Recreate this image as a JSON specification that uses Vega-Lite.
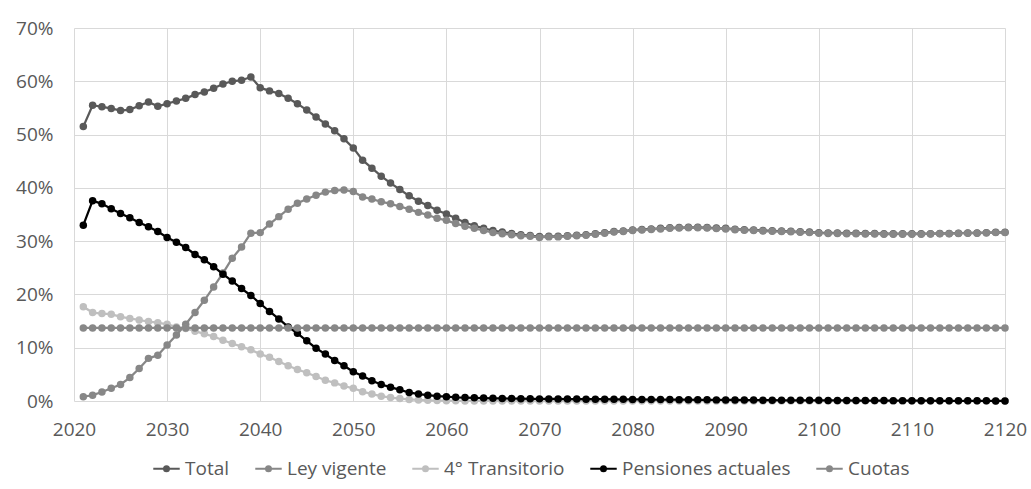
{
  "$schema": "https://vega.github.io/schema/vega-lite/v6.json",
  "width": 931,
  "height": 373,
  "autosize": {"type": "none"},
  "padding": {"left": 74, "top": 28, "right": 26, "bottom": 88},
  "background": "white",
  "config": {
    "font": "Open Sans",
    "view": {"stroke": null},
    "axis": {"labelFont": "Open Sans", "labelFontSize": 19, "labelColor": "#595959", "gridColor": "#d9d9d9", "gridWidth": 1, "domain": false, "ticks": false, "title": null}
  },
  "data": {"values": [
{"year":2021,"series":"Total","value":51.5},{"year":2022,"series":"Total","value":55.5},{"year":2023,"series":"Total","value":55.2},{"year":2024,"series":"Total","value":54.9},{"year":2025,"series":"Total","value":54.5},{"year":2026,"series":"Total","value":54.7},{"year":2027,"series":"Total","value":55.4},{"year":2028,"series":"Total","value":56.1},{"year":2029,"series":"Total","value":55.3},{"year":2030,"series":"Total","value":55.8},
{"year":2031,"series":"Total","value":56.3},{"year":2032,"series":"Total","value":56.8},{"year":2033,"series":"Total","value":57.5},{"year":2034,"series":"Total","value":58.0},{"year":2035,"series":"Total","value":58.7},{"year":2036,"series":"Total","value":59.5},{"year":2037,"series":"Total","value":60.0},{"year":2038,"series":"Total","value":60.2},{"year":2039,"series":"Total","value":60.8},{"year":2040,"series":"Total","value":58.8},
{"year":2041,"series":"Total","value":58.2},{"year":2042,"series":"Total","value":57.7},{"year":2043,"series":"Total","value":56.8},{"year":2044,"series":"Total","value":55.8},{"year":2045,"series":"Total","value":54.6},{"year":2046,"series":"Total","value":53.3},{"year":2047,"series":"Total","value":52.0},{"year":2048,"series":"Total","value":50.7},{"year":2049,"series":"Total","value":49.2},{"year":2050,"series":"Total","value":47.5},
{"year":2051,"series":"Total","value":45.2},{"year":2052,"series":"Total","value":43.7},{"year":2053,"series":"Total","value":42.2},{"year":2054,"series":"Total","value":40.9},{"year":2055,"series":"Total","value":39.7},{"year":2056,"series":"Total","value":38.5},{"year":2057,"series":"Total","value":37.5},{"year":2058,"series":"Total","value":36.7},{"year":2059,"series":"Total","value":35.8},{"year":2060,"series":"Total","value":35.1},
{"year":2061,"series":"Total","value":34.3},{"year":2062,"series":"Total","value":33.5},{"year":2063,"series":"Total","value":32.9},{"year":2064,"series":"Total","value":32.4},{"year":2065,"series":"Total","value":32.0},{"year":2066,"series":"Total","value":31.7},{"year":2067,"series":"Total","value":31.45},{"year":2068,"series":"Total","value":31.2},{"year":2069,"series":"Total","value":31.05},{"year":2070,"series":"Total","value":30.85},
{"year":2071,"series":"Total","value":30.9},{"year":2072,"series":"Total","value":30.9},{"year":2073,"series":"Total","value":31.0},{"year":2074,"series":"Total","value":31.1},{"year":2075,"series":"Total","value":31.2},{"year":2076,"series":"Total","value":31.4},{"year":2077,"series":"Total","value":31.6},{"year":2078,"series":"Total","value":31.8},{"year":2079,"series":"Total","value":31.9},{"year":2080,"series":"Total","value":32.1},
{"year":2081,"series":"Total","value":32.2},{"year":2082,"series":"Total","value":32.3},{"year":2083,"series":"Total","value":32.4},{"year":2084,"series":"Total","value":32.5},{"year":2085,"series":"Total","value":32.55},{"year":2086,"series":"Total","value":32.6},{"year":2087,"series":"Total","value":32.6},{"year":2088,"series":"Total","value":32.55},{"year":2089,"series":"Total","value":32.45},{"year":2090,"series":"Total","value":32.4},
{"year":2091,"series":"Total","value":32.25},{"year":2092,"series":"Total","value":32.15},{"year":2093,"series":"Total","value":32.1},{"year":2094,"series":"Total","value":32.0},{"year":2095,"series":"Total","value":31.95},{"year":2096,"series":"Total","value":31.9},{"year":2097,"series":"Total","value":31.85},{"year":2098,"series":"Total","value":31.75},{"year":2099,"series":"Total","value":31.7},{"year":2100,"series":"Total","value":31.6},
{"year":2101,"series":"Total","value":31.55},{"year":2102,"series":"Total","value":31.55},{"year":2103,"series":"Total","value":31.5},{"year":2104,"series":"Total","value":31.5},{"year":2105,"series":"Total","value":31.45},{"year":2106,"series":"Total","value":31.45},{"year":2107,"series":"Total","value":31.4},{"year":2108,"series":"Total","value":31.4},{"year":2109,"series":"Total","value":31.4},{"year":2110,"series":"Total","value":31.4},
{"year":2111,"series":"Total","value":31.4},{"year":2112,"series":"Total","value":31.4},{"year":2113,"series":"Total","value":31.45},{"year":2114,"series":"Total","value":31.45},{"year":2115,"series":"Total","value":31.5},{"year":2116,"series":"Total","value":31.55},{"year":2117,"series":"Total","value":31.55},{"year":2118,"series":"Total","value":31.6},{"year":2119,"series":"Total","value":31.65},{"year":2120,"series":"Total","value":31.65},

{"year":2021,"series":"Ley vigente","value":0.8},{"year":2022,"series":"Ley vigente","value":1.1},{"year":2023,"series":"Ley vigente","value":1.7},{"year":2024,"series":"Ley vigente","value":2.4},{"year":2025,"series":"Ley vigente","value":3.1},{"year":2026,"series":"Ley vigente","value":4.4},{"year":2027,"series":"Ley vigente","value":6.1},{"year":2028,"series":"Ley vigente","value":8.0},{"year":2029,"series":"Ley vigente","value":8.6},{"year":2030,"series":"Ley vigente","value":10.5},
{"year":2031,"series":"Ley vigente","value":12.4},{"year":2032,"series":"Ley vigente","value":14.4},{"year":2033,"series":"Ley vigente","value":16.6},{"year":2034,"series":"Ley vigente","value":18.9},{"year":2035,"series":"Ley vigente","value":21.4},{"year":2036,"series":"Ley vigente","value":24.0},{"year":2037,"series":"Ley vigente","value":26.8},{"year":2038,"series":"Ley vigente","value":28.9},{"year":2039,"series":"Ley vigente","value":31.5},{"year":2040,"series":"Ley vigente","value":31.6},
{"year":2041,"series":"Ley vigente","value":33.2},{"year":2042,"series":"Ley vigente","value":34.6},{"year":2043,"series":"Ley vigente","value":36.0},{"year":2044,"series":"Ley vigente","value":37.1},{"year":2045,"series":"Ley vigente","value":37.9},{"year":2046,"series":"Ley vigente","value":38.6},{"year":2047,"series":"Ley vigente","value":39.2},{"year":2048,"series":"Ley vigente","value":39.5},{"year":2049,"series":"Ley vigente","value":39.6},{"year":2050,"series":"Ley vigente","value":39.3},
{"year":2051,"series":"Ley vigente","value":38.3},{"year":2052,"series":"Ley vigente","value":37.9},{"year":2053,"series":"Ley vigente","value":37.4},{"year":2054,"series":"Ley vigente","value":37.0},{"year":2055,"series":"Ley vigente","value":36.5},{"year":2056,"series":"Ley vigente","value":36.0},{"year":2057,"series":"Ley vigente","value":35.4},{"year":2058,"series":"Ley vigente","value":34.9},{"year":2059,"series":"Ley vigente","value":34.3},{"year":2060,"series":"Ley vigente","value":33.9},
{"year":2061,"series":"Ley vigente","value":33.3},{"year":2062,"series":"Ley vigente","value":32.8},{"year":2063,"series":"Ley vigente","value":32.4},{"year":2064,"series":"Ley vigente","value":32.0},{"year":2065,"series":"Ley vigente","value":31.6},{"year":2066,"series":"Ley vigente","value":31.4},{"year":2067,"series":"Ley vigente","value":31.2},{"year":2068,"series":"Ley vigente","value":31.0},{"year":2069,"series":"Ley vigente","value":30.9},{"year":2070,"series":"Ley vigente","value":30.7},
{"year":2071,"series":"Ley vigente","value":30.8},{"year":2072,"series":"Ley vigente","value":30.8},{"year":2073,"series":"Ley vigente","value":30.9},{"year":2074,"series":"Ley vigente","value":31.0},{"year":2075,"series":"Ley vigente","value":31.1},{"year":2076,"series":"Ley vigente","value":31.3},{"year":2077,"series":"Ley vigente","value":31.5},{"year":2078,"series":"Ley vigente","value":31.7},{"year":2079,"series":"Ley vigente","value":31.8},{"year":2080,"series":"Ley vigente","value":32.0},
{"year":2081,"series":"Ley vigente","value":32.1},{"year":2082,"series":"Ley vigente","value":32.2},{"year":2083,"series":"Ley vigente","value":32.3},{"year":2084,"series":"Ley vigente","value":32.4},{"year":2085,"series":"Ley vigente","value":32.45},{"year":2086,"series":"Ley vigente","value":32.5},{"year":2087,"series":"Ley vigente","value":32.5},{"year":2088,"series":"Ley vigente","value":32.45},{"year":2089,"series":"Ley vigente","value":32.35},{"year":2090,"series":"Ley vigente","value":32.3},
{"year":2091,"series":"Ley vigente","value":32.15},{"year":2092,"series":"Ley vigente","value":32.05},{"year":2093,"series":"Ley vigente","value":32.0},{"year":2094,"series":"Ley vigente","value":31.9},{"year":2095,"series":"Ley vigente","value":31.85},{"year":2096,"series":"Ley vigente","value":31.8},{"year":2097,"series":"Ley vigente","value":31.75},{"year":2098,"series":"Ley vigente","value":31.65},{"year":2099,"series":"Ley vigente","value":31.6},{"year":2100,"series":"Ley vigente","value":31.5},
{"year":2101,"series":"Ley vigente","value":31.45},{"year":2102,"series":"Ley vigente","value":31.45},{"year":2103,"series":"Ley vigente","value":31.4},{"year":2104,"series":"Ley vigente","value":31.4},{"year":2105,"series":"Ley vigente","value":31.35},{"year":2106,"series":"Ley vigente","value":31.35},{"year":2107,"series":"Ley vigente","value":31.3},{"year":2108,"series":"Ley vigente","value":31.3},{"year":2109,"series":"Ley vigente","value":31.3},{"year":2110,"series":"Ley vigente","value":31.3},
{"year":2111,"series":"Ley vigente","value":31.3},{"year":2112,"series":"Ley vigente","value":31.35},{"year":2113,"series":"Ley vigente","value":31.4},{"year":2114,"series":"Ley vigente","value":31.4},{"year":2115,"series":"Ley vigente","value":31.45},{"year":2116,"series":"Ley vigente","value":31.5},{"year":2117,"series":"Ley vigente","value":31.5},{"year":2118,"series":"Ley vigente","value":31.55},{"year":2119,"series":"Ley vigente","value":31.6},{"year":2120,"series":"Ley vigente","value":31.6},

{"year":2021,"series":"4° Transitorio","value":17.7},{"year":2022,"series":"4° Transitorio","value":16.6},{"year":2023,"series":"4° Transitorio","value":16.4},{"year":2024,"series":"4° Transitorio","value":16.3},{"year":2025,"series":"4° Transitorio","value":15.8},{"year":2026,"series":"4° Transitorio","value":15.5},{"year":2027,"series":"4° Transitorio","value":15.2},{"year":2028,"series":"4° Transitorio","value":14.9},{"year":2029,"series":"4° Transitorio","value":14.7},{"year":2030,"series":"4° Transitorio","value":14.4},
{"year":2031,"series":"4° Transitorio","value":13.9},{"year":2032,"series":"4° Transitorio","value":13.6},{"year":2033,"series":"4° Transitorio","value":13.1},{"year":2034,"series":"4° Transitorio","value":12.6},{"year":2035,"series":"4° Transitorio","value":12.1},{"year":2036,"series":"4° Transitorio","value":11.4},{"year":2037,"series":"4° Transitorio","value":10.8},{"year":2038,"series":"4° Transitorio","value":10.2},{"year":2039,"series":"4° Transitorio","value":9.6},{"year":2040,"series":"4° Transitorio","value":8.8},
{"year":2041,"series":"4° Transitorio","value":8.2},{"year":2042,"series":"4° Transitorio","value":7.4},{"year":2043,"series":"4° Transitorio","value":6.6},{"year":2044,"series":"4° Transitorio","value":5.9},{"year":2045,"series":"4° Transitorio","value":5.3},{"year":2046,"series":"4° Transitorio","value":4.6},{"year":2047,"series":"4° Transitorio","value":3.9},{"year":2048,"series":"4° Transitorio","value":3.4},{"year":2049,"series":"4° Transitorio","value":2.8},{"year":2050,"series":"4° Transitorio","value":2.4},
{"year":2051,"series":"4° Transitorio","value":1.75},{"year":2052,"series":"4° Transitorio","value":1.3},{"year":2053,"series":"4° Transitorio","value":0.9},{"year":2054,"series":"4° Transitorio","value":0.65},{"year":2055,"series":"4° Transitorio","value":0.45},{"year":2056,"series":"4° Transitorio","value":0.3},{"year":2057,"series":"4° Transitorio","value":0.2},{"year":2058,"series":"4° Transitorio","value":0.12},{"year":2059,"series":"4° Transitorio","value":0.08},{"year":2060,"series":"4° Transitorio","value":0.05},
{"year":2061,"series":"4° Transitorio","value":0.03},{"year":2062,"series":"4° Transitorio","value":0.02},{"year":2063,"series":"4° Transitorio","value":0.01},{"year":2064,"series":"4° Transitorio","value":0.01},{"year":2065,"series":"4° Transitorio","value":0},{"year":2066,"series":"4° Transitorio","value":0},{"year":2067,"series":"4° Transitorio","value":0},{"year":2068,"series":"4° Transitorio","value":0},{"year":2069,"series":"4° Transitorio","value":0},{"year":2070,"series":"4° Transitorio","value":0},
{"year":2071,"series":"4° Transitorio","value":0},{"year":2072,"series":"4° Transitorio","value":0},{"year":2073,"series":"4° Transitorio","value":0},{"year":2074,"series":"4° Transitorio","value":0},{"year":2075,"series":"4° Transitorio","value":0},{"year":2076,"series":"4° Transitorio","value":0},{"year":2077,"series":"4° Transitorio","value":0},{"year":2078,"series":"4° Transitorio","value":0},{"year":2079,"series":"4° Transitorio","value":0},{"year":2080,"series":"4° Transitorio","value":0},
{"year":2081,"series":"4° Transitorio","value":0},{"year":2082,"series":"4° Transitorio","value":0},{"year":2083,"series":"4° Transitorio","value":0},{"year":2084,"series":"4° Transitorio","value":0},{"year":2085,"series":"4° Transitorio","value":0},{"year":2086,"series":"4° Transitorio","value":0},{"year":2087,"series":"4° Transitorio","value":0},{"year":2088,"series":"4° Transitorio","value":0},{"year":2089,"series":"4° Transitorio","value":0},{"year":2090,"series":"4° Transitorio","value":0},
{"year":2091,"series":"4° Transitorio","value":0},{"year":2092,"series":"4° Transitorio","value":0},{"year":2093,"series":"4° Transitorio","value":0},{"year":2094,"series":"4° Transitorio","value":0},{"year":2095,"series":"4° Transitorio","value":0},{"year":2096,"series":"4° Transitorio","value":0},{"year":2097,"series":"4° Transitorio","value":0},{"year":2098,"series":"4° Transitorio","value":0},{"year":2099,"series":"4° Transitorio","value":0},{"year":2100,"series":"4° Transitorio","value":0},
{"year":2101,"series":"4° Transitorio","value":0},{"year":2102,"series":"4° Transitorio","value":0},{"year":2103,"series":"4° Transitorio","value":0},{"year":2104,"series":"4° Transitorio","value":0},{"year":2105,"series":"4° Transitorio","value":0},{"year":2106,"series":"4° Transitorio","value":0},{"year":2107,"series":"4° Transitorio","value":0},{"year":2108,"series":"4° Transitorio","value":0},{"year":2109,"series":"4° Transitorio","value":0},{"year":2110,"series":"4° Transitorio","value":0},
{"year":2111,"series":"4° Transitorio","value":0},{"year":2112,"series":"4° Transitorio","value":0},{"year":2113,"series":"4° Transitorio","value":0},{"year":2114,"series":"4° Transitorio","value":0},{"year":2115,"series":"4° Transitorio","value":0},{"year":2116,"series":"4° Transitorio","value":0},{"year":2117,"series":"4° Transitorio","value":0},{"year":2118,"series":"4° Transitorio","value":0},{"year":2119,"series":"4° Transitorio","value":0},{"year":2120,"series":"4° Transitorio","value":0},

{"year":2021,"series":"Pensiones actuales","value":33.0},{"year":2022,"series":"Pensiones actuales","value":37.6},{"year":2023,"series":"Pensiones actuales","value":37.0},{"year":2024,"series":"Pensiones actuales","value":36.1},{"year":2025,"series":"Pensiones actuales","value":35.2},{"year":2026,"series":"Pensiones actuales","value":34.4},{"year":2027,"series":"Pensiones actuales","value":33.5},{"year":2028,"series":"Pensiones actuales","value":32.7},{"year":2029,"series":"Pensiones actuales","value":31.8},{"year":2030,"series":"Pensiones actuales","value":30.7},
{"year":2031,"series":"Pensiones actuales","value":29.8},{"year":2032,"series":"Pensiones actuales","value":28.8},{"year":2033,"series":"Pensiones actuales","value":27.5},{"year":2034,"series":"Pensiones actuales","value":26.5},{"year":2035,"series":"Pensiones actuales","value":25.2},{"year":2036,"series":"Pensiones actuales","value":23.8},{"year":2037,"series":"Pensiones actuales","value":22.5},{"year":2038,"series":"Pensiones actuales","value":21.1},{"year":2039,"series":"Pensiones actuales","value":19.8},{"year":2040,"series":"Pensiones actuales","value":18.3},
{"year":2041,"series":"Pensiones actuales","value":16.8},{"year":2042,"series":"Pensiones actuales","value":15.4},{"year":2043,"series":"Pensiones actuales","value":13.9},{"year":2044,"series":"Pensiones actuales","value":12.7},{"year":2045,"series":"Pensiones actuales","value":11.3},{"year":2046,"series":"Pensiones actuales","value":9.9},{"year":2047,"series":"Pensiones actuales","value":8.8},{"year":2048,"series":"Pensiones actuales","value":7.6},{"year":2049,"series":"Pensiones actuales","value":6.6},{"year":2050,"series":"Pensiones actuales","value":5.5},
{"year":2051,"series":"Pensiones actuales","value":4.7},{"year":2052,"series":"Pensiones actuales","value":3.8},{"year":2053,"series":"Pensiones actuales","value":3.1},{"year":2054,"series":"Pensiones actuales","value":2.6},{"year":2055,"series":"Pensiones actuales","value":2.1},{"year":2056,"series":"Pensiones actuales","value":1.6},{"year":2057,"series":"Pensiones actuales","value":1.3},{"year":2058,"series":"Pensiones actuales","value":1.1},{"year":2059,"series":"Pensiones actuales","value":0.9},{"year":2060,"series":"Pensiones actuales","value":0.8},
{"year":2061,"series":"Pensiones actuales","value":0.7},{"year":2062,"series":"Pensiones actuales","value":0.65},{"year":2063,"series":"Pensiones actuales","value":0.6},{"year":2064,"series":"Pensiones actuales","value":0.55},{"year":2065,"series":"Pensiones actuales","value":0.5},{"year":2066,"series":"Pensiones actuales","value":0.48},{"year":2067,"series":"Pensiones actuales","value":0.46},{"year":2068,"series":"Pensiones actuales","value":0.44},{"year":2069,"series":"Pensiones actuales","value":0.42},{"year":2070,"series":"Pensiones actuales","value":0.4},
{"year":2071,"series":"Pensiones actuales","value":0.39},{"year":2072,"series":"Pensiones actuales","value":0.38},{"year":2073,"series":"Pensiones actuales","value":0.37},{"year":2074,"series":"Pensiones actuales","value":0.36},{"year":2075,"series":"Pensiones actuales","value":0.35},{"year":2076,"series":"Pensiones actuales","value":0.34},{"year":2077,"series":"Pensiones actuales","value":0.33},{"year":2078,"series":"Pensiones actuales","value":0.32},{"year":2079,"series":"Pensiones actuales","value":0.31},{"year":2080,"series":"Pensiones actuales","value":0.3},
{"year":2081,"series":"Pensiones actuales","value":0.29},{"year":2082,"series":"Pensiones actuales","value":0.28},{"year":2083,"series":"Pensiones actuales","value":0.27},{"year":2084,"series":"Pensiones actuales","value":0.26},{"year":2085,"series":"Pensiones actuales","value":0.25},{"year":2086,"series":"Pensiones actuales","value":0.24},{"year":2087,"series":"Pensiones actuales","value":0.23},{"year":2088,"series":"Pensiones actuales","value":0.22},{"year":2089,"series":"Pensiones actuales","value":0.21},{"year":2090,"series":"Pensiones actuales","value":0.2},
{"year":2091,"series":"Pensiones actuales","value":0.19},{"year":2092,"series":"Pensiones actuales","value":0.18},{"year":2093,"series":"Pensiones actuales","value":0.17},{"year":2094,"series":"Pensiones actuales","value":0.16},{"year":2095,"series":"Pensiones actuales","value":0.15},{"year":2096,"series":"Pensiones actuales","value":0.14},{"year":2097,"series":"Pensiones actuales","value":0.13},{"year":2098,"series":"Pensiones actuales","value":0.13},{"year":2099,"series":"Pensiones actuales","value":0.12},{"year":2100,"series":"Pensiones actuales","value":0.12},
{"year":2101,"series":"Pensiones actuales","value":0.11},{"year":2102,"series":"Pensiones actuales","value":0.1},{"year":2103,"series":"Pensiones actuales","value":0.1},{"year":2104,"series":"Pensiones actuales","value":0.09},{"year":2105,"series":"Pensiones actuales","value":0.09},{"year":2106,"series":"Pensiones actuales","value":0.08},{"year":2107,"series":"Pensiones actuales","value":0.08},{"year":2108,"series":"Pensiones actuales","value":0.07},{"year":2109,"series":"Pensiones actuales","value":0.07},{"year":2110,"series":"Pensiones actuales","value":0.06},
{"year":2111,"series":"Pensiones actuales","value":0.055},{"year":2112,"series":"Pensiones actuales","value":0.05},{"year":2113,"series":"Pensiones actuales","value":0.045},{"year":2114,"series":"Pensiones actuales","value":0.04},{"year":2115,"series":"Pensiones actuales","value":0.035},{"year":2116,"series":"Pensiones actuales","value":0.03},{"year":2117,"series":"Pensiones actuales","value":0.03},{"year":2118,"series":"Pensiones actuales","value":0.025},{"year":2119,"series":"Pensiones actuales","value":0.02},{"year":2120,"series":"Pensiones actuales","value":0.02},

{"year":2021,"series":"Cuotas","value":13.7},{"year":2022,"series":"Cuotas","value":13.7},{"year":2023,"series":"Cuotas","value":13.7},{"year":2024,"series":"Cuotas","value":13.7},{"year":2025,"series":"Cuotas","value":13.7},{"year":2026,"series":"Cuotas","value":13.7},{"year":2027,"series":"Cuotas","value":13.7},{"year":2028,"series":"Cuotas","value":13.7},{"year":2029,"series":"Cuotas","value":13.7},{"year":2030,"series":"Cuotas","value":13.7},
{"year":2031,"series":"Cuotas","value":13.7},{"year":2032,"series":"Cuotas","value":13.7},{"year":2033,"series":"Cuotas","value":13.7},{"year":2034,"series":"Cuotas","value":13.7},{"year":2035,"series":"Cuotas","value":13.7},{"year":2036,"series":"Cuotas","value":13.7},{"year":2037,"series":"Cuotas","value":13.7},{"year":2038,"series":"Cuotas","value":13.7},{"year":2039,"series":"Cuotas","value":13.7},{"year":2040,"series":"Cuotas","value":13.7},
{"year":2041,"series":"Cuotas","value":13.7},{"year":2042,"series":"Cuotas","value":13.7},{"year":2043,"series":"Cuotas","value":13.7},{"year":2044,"series":"Cuotas","value":13.7},{"year":2045,"series":"Cuotas","value":13.7},{"year":2046,"series":"Cuotas","value":13.7},{"year":2047,"series":"Cuotas","value":13.7},{"year":2048,"series":"Cuotas","value":13.7},{"year":2049,"series":"Cuotas","value":13.7},{"year":2050,"series":"Cuotas","value":13.7},
{"year":2051,"series":"Cuotas","value":13.7},{"year":2052,"series":"Cuotas","value":13.7},{"year":2053,"series":"Cuotas","value":13.7},{"year":2054,"series":"Cuotas","value":13.7},{"year":2055,"series":"Cuotas","value":13.7},{"year":2056,"series":"Cuotas","value":13.7},{"year":2057,"series":"Cuotas","value":13.7},{"year":2058,"series":"Cuotas","value":13.7},{"year":2059,"series":"Cuotas","value":13.7},{"year":2060,"series":"Cuotas","value":13.7},
{"year":2061,"series":"Cuotas","value":13.7},{"year":2062,"series":"Cuotas","value":13.7},{"year":2063,"series":"Cuotas","value":13.7},{"year":2064,"series":"Cuotas","value":13.7},{"year":2065,"series":"Cuotas","value":13.7},{"year":2066,"series":"Cuotas","value":13.7},{"year":2067,"series":"Cuotas","value":13.7},{"year":2068,"series":"Cuotas","value":13.7},{"year":2069,"series":"Cuotas","value":13.7},{"year":2070,"series":"Cuotas","value":13.7},
{"year":2071,"series":"Cuotas","value":13.7},{"year":2072,"series":"Cuotas","value":13.7},{"year":2073,"series":"Cuotas","value":13.7},{"year":2074,"series":"Cuotas","value":13.7},{"year":2075,"series":"Cuotas","value":13.7},{"year":2076,"series":"Cuotas","value":13.7},{"year":2077,"series":"Cuotas","value":13.7},{"year":2078,"series":"Cuotas","value":13.7},{"year":2079,"series":"Cuotas","value":13.7},{"year":2080,"series":"Cuotas","value":13.7},
{"year":2081,"series":"Cuotas","value":13.7},{"year":2082,"series":"Cuotas","value":13.7},{"year":2083,"series":"Cuotas","value":13.7},{"year":2084,"series":"Cuotas","value":13.7},{"year":2085,"series":"Cuotas","value":13.7},{"year":2086,"series":"Cuotas","value":13.7},{"year":2087,"series":"Cuotas","value":13.7},{"year":2088,"series":"Cuotas","value":13.7},{"year":2089,"series":"Cuotas","value":13.7},{"year":2090,"series":"Cuotas","value":13.7},
{"year":2091,"series":"Cuotas","value":13.7},{"year":2092,"series":"Cuotas","value":13.7},{"year":2093,"series":"Cuotas","value":13.7},{"year":2094,"series":"Cuotas","value":13.7},{"year":2095,"series":"Cuotas","value":13.7},{"year":2096,"series":"Cuotas","value":13.7},{"year":2097,"series":"Cuotas","value":13.7},{"year":2098,"series":"Cuotas","value":13.7},{"year":2099,"series":"Cuotas","value":13.7},{"year":2100,"series":"Cuotas","value":13.7},
{"year":2101,"series":"Cuotas","value":13.7},{"year":2102,"series":"Cuotas","value":13.7},{"year":2103,"series":"Cuotas","value":13.7},{"year":2104,"series":"Cuotas","value":13.7},{"year":2105,"series":"Cuotas","value":13.7},{"year":2106,"series":"Cuotas","value":13.7},{"year":2107,"series":"Cuotas","value":13.7},{"year":2108,"series":"Cuotas","value":13.7},{"year":2109,"series":"Cuotas","value":13.7},{"year":2110,"series":"Cuotas","value":13.7},
{"year":2111,"series":"Cuotas","value":13.7},{"year":2112,"series":"Cuotas","value":13.7},{"year":2113,"series":"Cuotas","value":13.7},{"year":2114,"series":"Cuotas","value":13.7},{"year":2115,"series":"Cuotas","value":13.7},{"year":2116,"series":"Cuotas","value":13.7},{"year":2117,"series":"Cuotas","value":13.7},{"year":2118,"series":"Cuotas","value":13.7},{"year":2119,"series":"Cuotas","value":13.7},{"year":2120,"series":"Cuotas","value":13.7}
  ]},
  "encoding": {
    "x": {"field": "year", "type": "quantitative", "scale": {"domain": [2020, 2120], "nice": false, "zero": false},
          "axis": {"values": [2020,2030,2040,2050,2060,2070,2080,2090,2100,2110,2120], "format": "d", "labelPadding": 19, "labelFlush": false}},
    "y": {"field": "value", "type": "quantitative", "scale": {"domain": [0, 70], "nice": false},
          "axis": {"values": [0,10,20,30,40,50,60,70], "labelExpr": "datum.value + '%'", "labelPadding": 21}},
    "color": {"field": "series", "type": "nominal",
      "scale": {"domain": ["Total","Ley vigente","4° Transitorio","Pensiones actuales","Cuotas"],
                "range": ["#595959","#878787","#bfbfbf","#000000","#888888"]},
      "legend": {"title": null, "orient": "none", "legendX": 78, "legendY": 426, "direction": "horizontal",
                 "symbolType": "M-1,0L1,0M-0.19,0A0.19,0.19,0,1,1,0.19,0A0.19,0.19,0,1,1,-0.19,0Z",
                 "symbolSize": 700, "symbolStrokeWidth": 2,
                 "labelFont": "Open Sans", "labelFontSize": 19, "labelColor": "#595959", "labelLimit": 400,
                 "columnPadding": 21, "labelOffset": 4,
                 "encode": {"symbols": {"update": {"fill": {"scale": "color", "field": "value"}, "stroke": {"scale": "color", "field": "value"}, "opacity": {"value": 1}}}}}
    }
  },
  "layer": [
    {"transform": [{"filter": "datum.series === 'Total'"}], "mark": {"type": "line", "strokeWidth": 2.25, "point": {"filled": true, "size": 56, "opacity": 1}}},
    {"transform": [{"filter": "datum.series === 'Ley vigente'"}], "mark": {"type": "line", "strokeWidth": 2.25, "point": {"filled": true, "size": 56, "opacity": 1}}},
    {"transform": [{"filter": "datum.series === '4° Transitorio'"}], "mark": {"type": "line", "strokeWidth": 2.25, "point": {"filled": true, "size": 56, "opacity": 1}}},
    {"transform": [{"filter": "datum.series === 'Pensiones actuales'"}], "mark": {"type": "line", "strokeWidth": 2.25, "point": {"filled": true, "size": 56, "opacity": 1}}},
    {"transform": [{"filter": "datum.series === 'Cuotas'"}], "mark": {"type": "line", "strokeWidth": 2.25, "point": {"filled": true, "size": 56, "opacity": 1}}}
  ]
}
